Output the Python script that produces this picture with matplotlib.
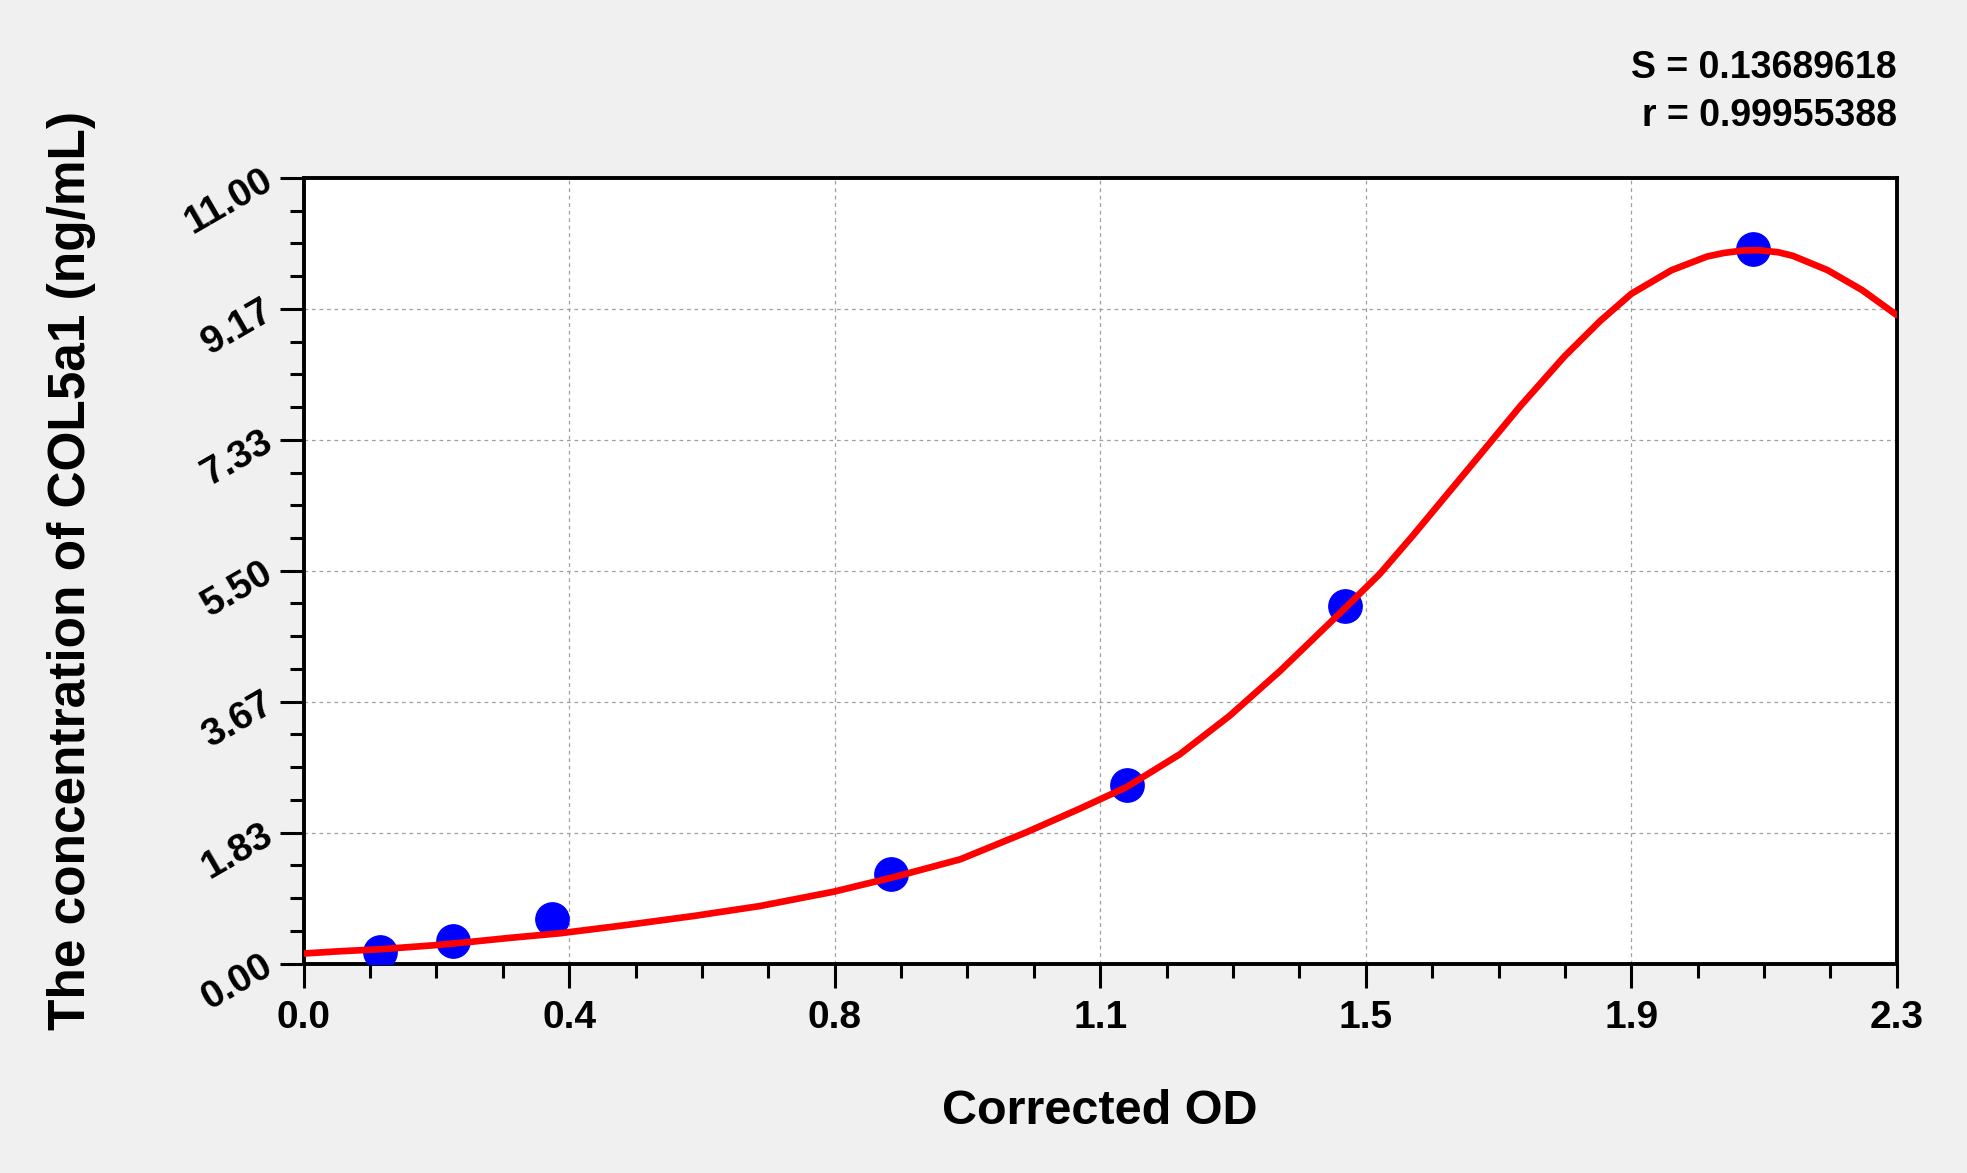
import matplotlib
matplotlib.use("Agg")
import matplotlib.pyplot as plt
from matplotlib.ticker import FixedLocator, MultipleLocator

plt.rcParams['font.family'] = ['Liberation Sans', 'DejaVu Sans']
plt.rcParams['font.weight'] = 'bold'

# standards: corrected OD vs concentration (ng/mL)
od = [0.111, 0.216, 0.359, 0.848, 1.188, 1.503, 2.092]
conc = [0.156, 0.312, 0.625, 1.25, 2.5, 5.0, 10.0]

# fitted curve
curve_x = [0.000, 0.050, 0.111, 0.188, 0.243, 0.299, 0.370, 0.466, 0.563,
           0.659, 0.765, 0.851, 0.948, 1.044, 1.121, 1.188, 1.265, 1.337,
           1.410, 1.458, 1.506, 1.554, 1.602, 1.650, 1.698, 1.756, 1.820,
           1.872, 1.917, 1.975, 2.026, 2.050, 2.078, 2.100, 2.129, 2.150,
           2.200, 2.250, 2.300]
curve_y = [0.14, 0.17, 0.20, 0.255, 0.305, 0.36, 0.423, 0.539, 0.665,
           0.805, 1.005, 1.207, 1.459, 1.84, 2.17, 2.47, 2.93, 3.47,
           4.10, 4.55, 5.00, 5.46, 6.00, 6.56, 7.12, 7.80, 8.50,
           9.00, 9.38, 9.71, 9.90, 9.95, 9.985, 9.99, 9.96, 9.91,
           9.71, 9.43, 9.08]

x_ticks = [0.0, 2.3 / 6, 2.3 / 3, 1.15, 2.3 * 2 / 3, 2.3 * 5 / 6, 2.3]
x_labels = ['0.0', '0.4', '0.8', '1.1', '1.5', '1.9', '2.3']
y_ticks = [0.0, 11 / 6, 11 / 3, 5.5, 22 / 3, 55 / 6, 11.0]
y_labels = ['0.00', '1.83', '3.67', '5.50', '7.33', '9.17', '11.00']

W, H = 1967, 1173
fig = plt.figure(figsize=(W / 100, H / 100), dpi=100, facecolor='#f0f0f0')
ax = fig.add_axes([303.6 / W, 1 - 963.5 / H, 1593.2 / W, 785.5 / H])
ax.set_facecolor('white')

ax.plot(od, conc, 'o', color='#0000ff', markersize=24, zorder=3)
ax.plot(curve_x, curve_y, '-', color='#ff0000', linewidth=4.8, zorder=4,
        solid_capstyle='round', solid_joinstyle='round')

ax.set_xlim(0, 2.3)
ax.set_ylim(0, 11)

ax.xaxis.set_major_locator(FixedLocator(x_ticks))
ax.set_xticklabels(x_labels)
ax.xaxis.set_minor_locator(MultipleLocator(2.3 / 24))
ax.yaxis.set_major_locator(FixedLocator(y_ticks))
ax.set_yticklabels(y_labels)
ax.yaxis.set_minor_locator(MultipleLocator(11 / 24))

ax.tick_params(which='major', direction='out', length=17, width=2.2,
               labelsize=28, color='black')
ax.tick_params(which='minor', direction='out', length=10, width=2.2,
               color='black')
ax.tick_params(axis='x', which='major', pad=9)
ax.tick_params(axis='y', which='major', pad=7)
plt.setp(ax.get_yticklabels(), rotation=30, ha='right', va='center',
         rotation_mode='anchor')
for lbl in ax.get_xticklabels() + ax.get_yticklabels():
    lbl.set_fontweight('bold')

for sp in ax.spines.values():
    sp.set_linewidth(2.8)
    sp.set_color('black')

ax.grid(True, which='major', color='#a0a0a0', linestyle=(0, (3, 3)),
        linewidth=0.9)
ax.set_axisbelow(True)

ax.set_xlabel('Corrected OD', fontsize=35, fontweight='bold')
ax.xaxis.label.set_va('center')
ax.xaxis.set_label_coords(0.5, -0.189)
ax.set_ylabel('The concentration of COL5a1 (ng/mL)', fontsize=37,
              fontweight='bold')
ax.yaxis.label.set_va('center')
ax.yaxis.set_label_coords(-0.1457, 0.5)

fig.text(1896.7 / W, 1 - 78 / H, 'S = 0.13689618', ha='right',
         va='baseline', fontsize=27, fontweight='bold')
fig.text(1896.7 / W, 1 - 126 / H, 'r = 0.99955388', ha='right',
         va='baseline', fontsize=27, fontweight='bold')

fig.savefig('out.png', dpi=100, facecolor=fig.get_facecolor())
